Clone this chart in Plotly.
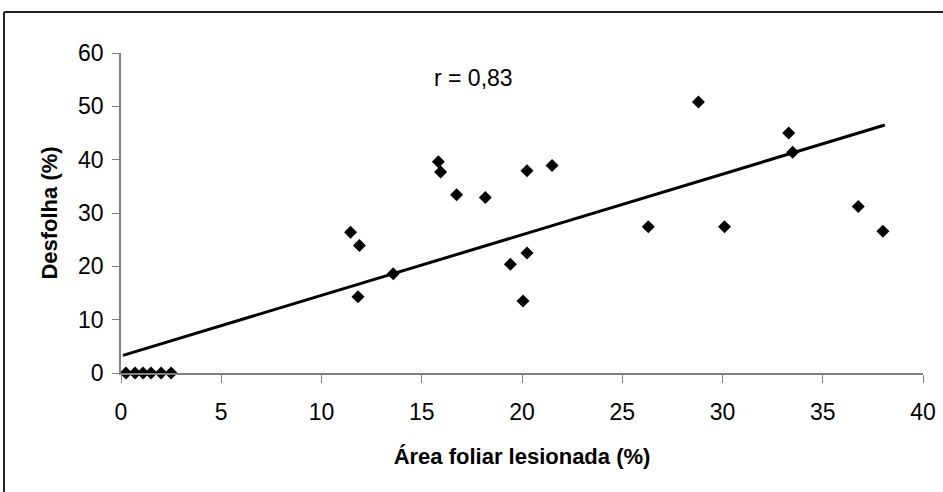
import plotly.graph_objects as go

# Observed data
area_lesionada = [0.25, 0.7, 1.1, 1.5, 2.0, 2.5,
                  11.45, 11.89, 11.82, 13.58, 15.83, 15.94, 16.74, 18.17,
                  19.42, 20.25, 20.05, 20.25, 21.5, 26.3, 28.8, 30.1,
                  33.3, 33.5, 36.77, 38.0]
desfolha = [0, 0, 0, 0, 0, 0,
            26.4, 23.9, 14.3, 18.6, 39.6, 37.7, 33.4, 32.9,
            20.4, 22.5, 13.5, 37.9, 38.9, 27.4, 50.8, 27.4,
            45.0, 41.4, 31.2, 26.6]

# Trendline end points (as drawn)
trend_x = [0.1, 38.1]
trend_y = [3.3, 46.5]

x_ticks = [0, 5, 10, 15, 20, 25, 30, 35, 40]
y_ticks = [0, 10, 20, 30, 40, 50, 60]

FONT = "Liberation Sans, Arial, sans-serif"

fig = go.Figure()
fig.add_trace(go.Scatter(x=trend_x, y=trend_y, mode="lines",
                         line=dict(color="black", width=3), showlegend=False,
                         cliponaxis=False))
fig.add_trace(go.Scatter(x=area_lesionada, y=desfolha, mode="markers",
                         marker=dict(symbol="diamond", size=10, color="black"),
                         showlegend=False, cliponaxis=False))

fig.add_annotation(x=17.6, y=55.4, text="r = 0,83", showarrow=False,
                   font=dict(family=FONT, size=23, color="black"))

# outer frame (only top and left edges visible in the reference)
fig.add_shape(type="line", xref="paper", yref="paper",
              x0=-0.1459, x1=1.0249, y0=1.128, y1=1.128,
              line=dict(color="#222222", width=2), layer="below")
fig.add_shape(type="line", xref="paper", yref="paper",
              x0=-0.1459, x1=-0.1459, y0=-0.372, y1=1.128,
              line=dict(color="#222222", width=2), layer="below")

fig.update_layout(
    width=943, height=492,
    margin=dict(l=121, r=20, t=53, b=119),
    paper_bgcolor="white", plot_bgcolor="white",
    font=dict(family=FONT, size=23, color="black"),
    xaxis=dict(range=[0, 40], tickvals=x_ticks, ticks="outside", ticklen=8,
               tickcolor="#808080", showline=True, linecolor="#808080", linewidth=1.5,
               showgrid=False, zeroline=False, ticklabelstandoff=10, automargin=False,
               title=dict(text="<b>Área foliar lesionada (%)</b>", standoff=24,
                          font=dict(family=FONT, size=22))),
    yaxis=dict(range=[0, 60], tickvals=y_ticks, ticks="outside", ticklen=7,
               tickcolor="#808080", showline=True, linecolor="#808080", linewidth=1.5,
               showgrid=False, zeroline=False, ticklabelstandoff=4, automargin=False,
               title=dict(text="<b>Desfolha (%)</b>", standoff=14,
                          font=dict(family=FONT, size=22))),
)

fig.write_html("out.html", config={"displayModeBar": False},
               post_script=("document.body.style.margin='0';"
                            "document.body.style.overflow='hidden';"
                            "document.documentElement.style.overflow='hidden';"))
